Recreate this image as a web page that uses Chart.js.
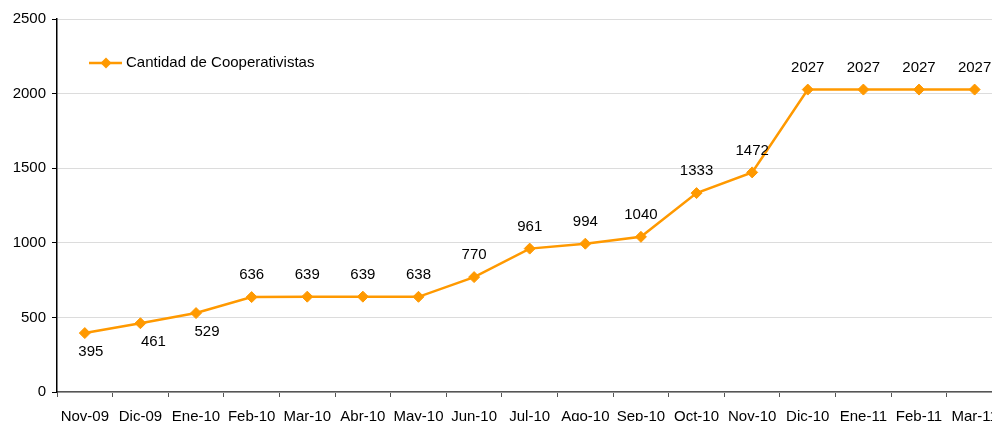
<!DOCTYPE html>
<html lang="es">
<head>
<meta charset="utf-8">
<script src="https://cdn.jsdelivr.net/npm/chart.js@4.4.1/dist/chart.umd.min.js"></script>
<style>
  html, body { margin: 0; padding: 0; background: #fff; overflow: hidden; }
  #wrap { position: relative; width: 1009px; height: 421px; }
</style>
</head>
<body>
<div id="wrap">
  <!-- más ancho que la ventana: el eje sigue más allá del borde derecho, como en el original -->
  <canvas id="coop-chart" width="1009" height="421"></canvas>
</div>
<script>
  // datos
  const meses = ['Nov-09', 'Dic-09', 'Ene-10', 'Feb-10', 'Mar-10', 'Abr-10', 'May-10', 'Jun-10', 'Jul-10', 'Ago-10', 'Sep-10', 'Oct-10', 'Nov-10', 'Dic-10', 'Ene-11', 'Feb-11', 'Mar-11'];
  const cooperativistas = [395, 461, 529, 636, 639, 639, 638, 770, 961, 994, 1040, 1333, 1472, 2027, 2027, 2027, 2027];
  const serieNombre = 'Cantidad de Cooperativistas';
  const yTicks = [0, 500, 1000, 1500, 2000, 2500];

  const naranja = '#ff9900';
  const fuente = { family: 'Arial, "Liberation Sans", sans-serif', size: 15 };

  // etiquetas de valor + leyenda dibujadas a mano
  const etiquetas = {
    id: 'etiquetas',
    afterDatasetsDraw(chart) {
      const ctx = chart.ctx;
      const meta = chart.getDatasetMeta(0);
      ctx.save();
      ctx.font = '15px Arial, "Liberation Sans", sans-serif';
      ctx.fillStyle = '#000';
      ctx.textAlign = 'center';
      ctx.textBaseline = 'middle';
      meta.data.forEach((pt, i) => {
        const abajo = i < 3;
        const dx = abajo ? [6, 13, 11][i] : 0;
        ctx.fillText(String(cooperativistas[i]), pt.x + dx, abajo ? pt.y + 19 : pt.y - 22);
      });

      // leyenda
      const ly = 63;
      ctx.strokeStyle = naranja;
      ctx.lineWidth = 2.5;
      ctx.beginPath();
      ctx.moveTo(89, ly);
      ctx.lineTo(122, ly);
      ctx.stroke();
      ctx.fillStyle = naranja;
      ctx.beginPath();
      ctx.moveTo(106, ly - 5.5);
      ctx.lineTo(111.5, ly);
      ctx.lineTo(106, ly + 5.5);
      ctx.lineTo(100.5, ly);
      ctx.closePath();
      ctx.fill();
      ctx.fillStyle = '#000';
      ctx.textAlign = 'left';
      ctx.fillText(serieNombre, 126, ly);
      ctx.restore();
    }
  };

  new Chart(document.getElementById('coop-chart'), {
    type: 'line',
    data: {
      labels: meses,
      datasets: [{
        label: serieNombre,
        data: cooperativistas,
        borderColor: naranja,
        backgroundColor: naranja,
        borderWidth: 2.5,
        pointStyle: 'rectRot',
        pointRadius: 5.5,
        pointBorderWidth: 1,
        tension: 0
      }]
    },
    options: {
      responsive: false,
      animation: false,
      devicePixelRatio: 1,
      layout: { padding: { top: 19, right: 0, bottom: 0, left: 0 } },
      plugins: {
        legend: { display: false },
        tooltip: { enabled: false }
      },
      scales: {
        x: {
          offset: true,
          grid: {
            offset: true,
            drawOnChartArea: false,
            drawTicks: true,
            tickLength: 5,
            color: '#555'
          },
          border: { color: '#555', width: 1.5 },
          ticks: {
            color: '#000',
            font: fuente,
            padding: 11,
            maxRotation: 0,
            autoSkip: false
          },
          afterFit(s) { s.height = 29; }
        },
        y: {
          min: 0,
          max: 2500,
          afterBuildTicks(s) { s.ticks = yTicks.map(v => ({ value: v })); },
          grid: {
            color: '#dcdcdc',
            tickColor: '#000',
            tickLength: 5
          },
          border: { color: '#000', width: 1.5 },
          ticks: {
            color: '#000',
            font: fuente,
            padding: 6,
            callback: v => String(v)
          },
          afterFit(s) { s.width = 57; }
        }
      }
    },
    plugins: [etiquetas]
  });
</script>
</body>
</html>
